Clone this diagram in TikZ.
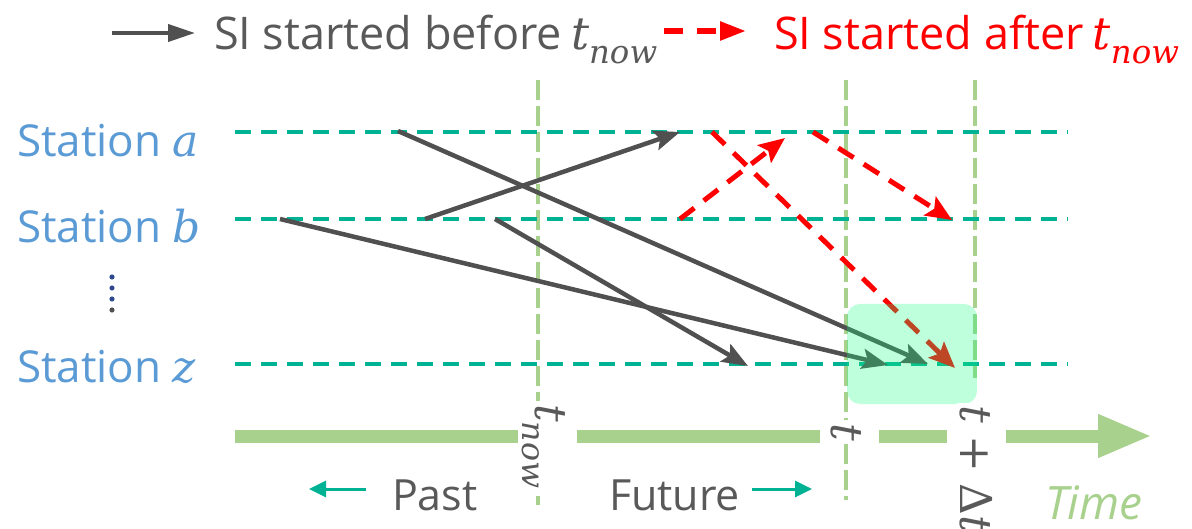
\documentclass[tikz,border=0pt]{standalone}
\usepackage{fontspec}
\setmainfont{Open Sans}
\newfontfamily\mathfnt{DejaVu Serif}
\usetikzlibrary{arrows.meta}

\definecolor{stationblue}{HTML}{5B9BD5}
\definecolor{trackteal}{HTML}{00B294}
\definecolor{timegreen}{HTML}{A9D18E}
\definecolor{arrgray}{HTML}{505050}
\definecolor{txtgray}{HTML}{595959}
\definecolor{dotblue}{HTML}{2E4A8C}
\definecolor{winfill}{RGB}{20,255,130}

% italic variable names and t_now
\newcommand{\mv}[1]{{\mathfnt\itshape #1}}
\newcommand{\tnow}{\mv{t}\raisebox{-0.3em}{\scalebox{0.72}{\mv{now}}}}

\tikzset{
  lbl/.style={inner sep=0pt, outer sep=0pt},
  stationlbl/.style={lbl, anchor=base west, text=stationblue, font=\fontsize{44}{50}\selectfont},
  legtext/.style={lbl, anchor=base west, font=\fontsize{45}{50}\selectfont},
  track/.style={draw=trackteal, line width=4pt, dash pattern=on 16pt off 10pt},
  timeline/.style={draw=timegreen, line width=4.5pt, dash pattern=on 20pt off 6pt},
  sibefore/.style={draw=arrgray, line width=4.5pt, -{Stealth[length=26pt,width=20pt,inset=5pt]}},
  siafter/.style={draw=red, line width=5pt, dash pattern=on 18pt off 12pt,
    -{Stealth[length=26pt,width=22pt,inset=5pt]}},
  timeaxis/.style={draw=timegreen, line width=13pt},
  tickl/.style={lbl, rotate=-90, fill=white, text=txtgray, font=\fontsize{44}{48}\selectfont, inner sep=3pt},
  dirarr/.style={draw=trackteal, line width=3pt, -{Triangle[length=17pt,width=16pt]}},
  window/.style={draw=none, fill=winfill, fill opacity=0.28, rounded corners=13pt,
    minimum width=130pt, minimum height=100pt, inner sep=0pt},
}

\begin{document}
\begin{tikzpicture}[x=1pt,y=-1pt]
\useasboundingbox (0,0) rectangle (1192,529);

% ---------- legend ----------
\coordinate (lgA) at (112,33);
\coordinate (lgB) at (195,33);
\draw[draw=arrgray, line width=4pt, -{Triangle[length=27pt,width=17pt]}] (lgA) -- (lgB);
\node[legtext, text=txtgray] (legBefore) at (214,50) {SI started before\hspace{0.2em}\tnow};
\coordinate (lgC) at (664,31);
\coordinate (lgD) at (746,31);
\draw[draw=red, line width=5.5pt, dash pattern=on 19pt off 14pt,
      -{Triangle[length=26pt,width=18pt]}] (lgC) -- (lgD);
\node[legtext, text=red] (legAfter) at (774,50) {SI started after\hspace{0.2em}\tnow};

% ---------- station labels ----------
\node[stationlbl] (labA) at (17,157) {Station \mv{a}};
\node[stationlbl] (labB) at (17,243) {Station \mv{b}};
\node[stationlbl] (labZ) at (17,383) {Station \mv{z}};
\foreach \yy/\cc in {277/dotblue,288/dotblue,299/dotblue,310/arrgray}
  \fill[\cc] (112,\yy) circle (2.6pt);

% ---------- vertical time marks ----------
\coordinate (vNowT) at (538,80);   \coordinate (vNowB) at (538,505);
\coordinate (vTT)   at (846,80);   \coordinate (vTB)   at (846,500);
\coordinate (vDtT)  at (975,80);   \coordinate (vDtB)  at (975,378);
\draw[timeline] (vNowT) -- (vNowB);
\draw[timeline] (vTT) -- (vTB);
\draw[timeline] (vDtT) -- (vDtB);

% ---------- station tracks ----------
\coordinate (aL) at (235,132); \coordinate (aR) at (1068,132);
\coordinate (bL) at (235,219); \coordinate (bR) at (1068,219);
\coordinate (zL) at (235,364); \coordinate (zR) at (1068,364);
\draw[track] (aL) -- (aR);
\draw[track] (bL) -- (bR);
\draw[track] (zL) -- (zR);

% ---------- SI started before t_now ----------
\coordinate (g1s) at (398,131); \coordinate (g1e) at (928,364);
\coordinate (g2s) at (280,219); \coordinate (g2e) at (888,365);
\coordinate (g3s) at (425,219); \coordinate (g3e) at (680,132);
\coordinate (g4s) at (495,219); \coordinate (g4e) at (748,366);
\draw[sibefore] (g1s) -- (g1e);
\draw[sibefore] (g2s) -- (g2e);
\draw[sibefore] (g3s) -- (g3e);
\draw[sibefore] (g4s) -- (g4e);

% ---------- SI started after t_now ----------
\coordinate (r1s) at (680,219); \coordinate (r1e) at (785,138);
\coordinate (r2s) at (712,132); \coordinate (r2e) at (955,368);
\coordinate (r3s) at (813,132); \coordinate (r3e) at (952,220);
\draw[siafter] (r1s) -- (r1e);
\draw[siafter] (r2s) -- (r2e);
\draw[siafter] (r3s) -- (r3e);

% ---------- prediction window ----------
\node[window] (win) at (912,354) {};

% ---------- time axis ----------
\coordinate (ax0) at (235,436); \coordinate (ax1) at (518,436);
\coordinate (ax2) at (577,436); \coordinate (ax3) at (820,436);
\coordinate (ax4) at (879,436); \coordinate (ax5) at (947,436);
\coordinate (ax6) at (1006,436); \coordinate (ax7) at (1152,436);
\draw[timeaxis] (ax0) -- (ax1);
\draw[timeaxis] (ax2) -- (ax3);
\draw[timeaxis] (ax4) -- (ax5);
\draw[timeaxis, -{Triangle[length=54pt,width=40pt]}] (ax6) -- (ax7);

\node[tickl, anchor=west] (tkNow) at (544,401) {\tnow};
\node[tickl] (tkT) at (846,432) {\mv{t}};
\node[tickl, anchor=west] (tkDt) at (976,403) {\mv{t} {\mathfnt +} {\mathfnt Δ}\mv{t}};

% ---------- past / future / time ----------
\node[legtext, font=\fontsize{43}{48}\selectfont, text=txtgray] (past) at (392,510) {Past};
\node[legtext, font=\fontsize{43}{48}\selectfont, text=txtgray] (future) at (609,510) {Future};
\coordinate (pastA) at (366,489); \coordinate (pastB) at (309,489);
\coordinate (futA) at (752,489);  \coordinate (futB) at (812,489);
\draw[dirarr] (pastA) -- (pastB);
\draw[dirarr] (futA) -- (futB);
\node[lbl, anchor=base west, text=timegreen, font=\fontsize{46}{50}\selectfont\itshape] (timelbl) at (1045,519) {Time};
\end{tikzpicture}
\end{document}
